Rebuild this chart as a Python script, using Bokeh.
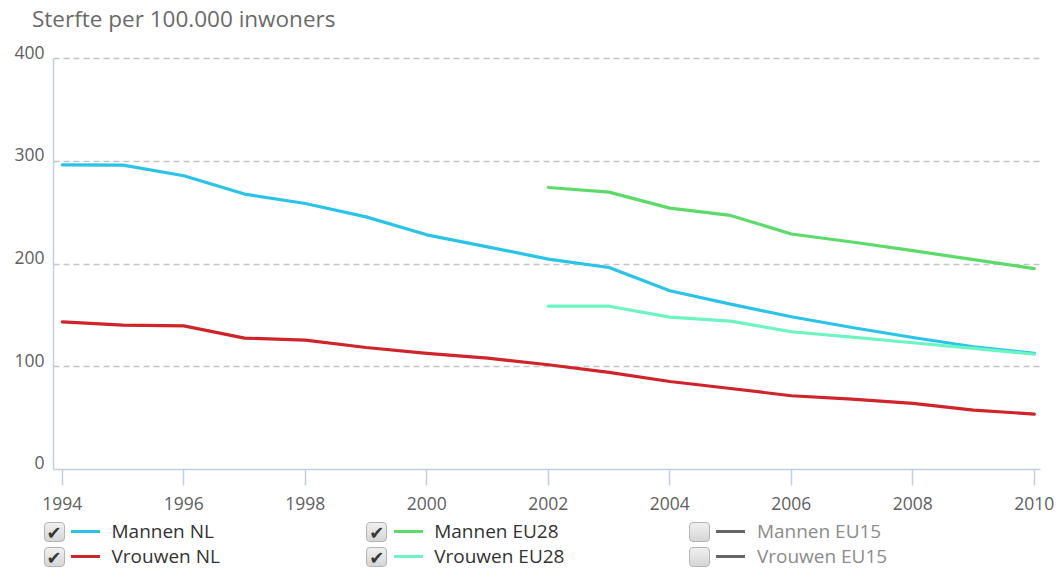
from bokeh.plotting import figure
from bokeh.models import Range1d, FixedTicker, Div, LinearAxis
from bokeh.layouts import column
from bokeh.embed import file_html
from bokeh.resources import INLINE

# ---- data ----
years_nl = [1994, 1995, 1996, 1997, 1998, 1999, 2000, 2001, 2002,
            2003, 2004, 2005, 2006, 2007, 2008, 2009, 2010]
mannen_nl = [296.7, 296.4, 286.0, 268.2, 259.0, 246.0, 228.5, 216.8, 204.9,
             196.7, 174.0, 161.0, 148.7, 138.3, 128.5, 119.5, 113.0]
vrouwen_nl = [143.8, 140.6, 139.9, 127.9, 126.0, 118.8, 113.0, 108.5, 102.0,
              94.5, 85.7, 78.9, 71.8, 68.5, 64.3, 57.8, 54.0]
years_eu = [2002, 2003, 2004, 2005, 2006, 2007, 2008, 2009, 2010]
mannen_eu28 = [274.6, 270.1, 254.5, 247.4, 229.3, 221.5, 213.1, 204.3, 195.6]
vrouwen_eu28 = [159.0, 159.0, 148.4, 144.5, 134.1, 128.9, 123.4, 118.0, 112.2]

x_ticks = [1994, 1996, 1998, 2000, 2002, 2004, 2006, 2008, 2010]
y_ticks = [0, 100, 200, 300, 400]
title_text = "Sterfte per 100.000 inwoners"

legend_names = ["Mannen NL", "Vrouwen NL", "Mannen EU28", "Vrouwen EU28",
                "Mannen EU15", "Vrouwen EU15"]
legend_checked = [True, True, True, True, False, False]
colors = ["#2ac4e8", "#d0242b", "#5cdb6a", "#6cf5c2", "#666666", "#666666"]

FONT = "Open Sans"
X0, X1 = 1993.855, 2010.102
Y0, Y1 = 0, 407           # a little head-room above the 400 grid line
LABEL_SHIFT = 6.33        # y tick labels sit a few pixels above their grid line

# ---- title (HTML, above the figure) ----
title_div = Div(
    text=(f"<div style=\"position:relative;width:1060px;height:34px;\">"
          f"<div style=\"position:absolute;left:32px;top:4px;line-height:30px;"
          f"font-size:22.5px;color:#6a6a6a;white-space:nowrap;"
          f"font-family:'{FONT}';\">{title_text}</div></div>"),
    width=1060, height=34, margin=(0, 0, 0, 0))

# ---- figure ----
p = figure(width=1060, height=484, output_backend="svg", toolbar_location=None,
           x_range=Range1d(X0, X1), y_range=Range1d(Y0, Y1),
           min_border_left=53, min_border_right=20, min_border_top=17,
           min_border_bottom=49)
p.outline_line_color = None
p.background_fill_color = "white"
p.border_fill_color = "white"

axis_col = "#c0d0e0"
p.xaxis.ticker = FixedTicker(ticks=x_ticks)
p.xaxis.axis_line_color = axis_col
p.xaxis.axis_line_width = 1.5
p.xaxis.major_tick_line_color = axis_col
p.xaxis.major_tick_line_width = 1.5
p.xaxis.major_tick_out = 16
p.xaxis.major_tick_in = 0
p.xaxis.minor_tick_line_color = None
p.xaxis.major_label_text_font = FONT
p.xaxis.major_label_text_font_size = "17.5px"
p.xaxis.major_label_text_color = "#606060"
p.xaxis.major_label_standoff = 11

# main y axis: the line (0..400) and the grid, no labels
p.yaxis.ticker = FixedTicker(ticks=y_ticks)
p.yaxis.bounds = (0, 400)
p.yaxis.axis_line_color = axis_col
p.yaxis.axis_line_width = 1.5
p.yaxis.major_tick_line_color = None
p.yaxis.major_tick_out = 0
p.yaxis.major_tick_in = 0
p.yaxis.minor_tick_line_color = None
p.yaxis.major_label_standoff = 0
p.yaxis.major_label_overrides = {t: "" for t in y_ticks}

# label axis: same ticks, range shifted so labels sit just above the grid lines
p.extra_y_ranges = {"ylab": Range1d(Y0 - LABEL_SHIFT, Y1 - LABEL_SHIFT)}
lab_axis = LinearAxis(y_range_name="ylab", ticker=FixedTicker(ticks=y_ticks),
                      axis_line_color=None, major_tick_line_color=None,
                      minor_tick_line_color=None, major_tick_out=0, major_tick_in=0,
                      major_label_standoff=9, major_label_text_font=FONT,
                      major_label_text_font_size="17.5px",
                      major_label_text_color="#606060")
p.add_layout(lab_axis, "left")

p.xgrid.grid_line_color = None
p.ygrid.grid_line_color = "#c4c4c4"
p.ygrid.grid_line_dash = "6 4"
p.ygrid.grid_line_width = 1.3

# series
lw = 3.2
p.line(years_nl, mannen_nl, line_color=colors[0], line_width=lw, line_join="round", line_cap="round")
p.line(years_nl, vrouwen_nl, line_color=colors[1], line_width=lw, line_join="round", line_cap="round")
p.line(years_eu, mannen_eu28, line_color=colors[2], line_width=lw, line_join="round", line_cap="round")
p.line(years_eu, vrouwen_eu28, line_color=colors[3], line_width=lw, line_join="round", line_cap="round")

# ---- legend with checkboxes (HTML) ----
items = []
for i, name in enumerate(legend_names):
    col, row = i // 2, i % 2
    bx = 43.5 + col * 322.7
    cy = 13.7 + row * 25.1
    checked = legend_checked[i]
    txt_col = "#333333" if checked else "#8c8c8c"
    check = ("<span style=\"position:absolute;left:0;top:0;width:100%;"
             "line-height:19px;text-align:center;font-size:18px;color:#383838;"
             "font-family:'DejaVu Sans';\">&#10004;</span>") if checked else ""
    items.append(
        f"<div style=\"position:absolute;left:{bx}px;top:{cy-9.5}px;width:21px;height:20px;"
        "box-sizing:border-box;border:1px solid #b4b4b4;border-radius:4px;"
        f"background:linear-gradient(#f0f0f0,#d6d6d6);\">{check}</div>"
        f"<div style=\"position:absolute;left:{bx+27.5}px;top:{cy-1.5}px;width:29px;height:3px;"
        f"background:{colors[i]};\"></div>"
        f"<div style=\"position:absolute;left:{bx+68}px;top:{cy-12.5}px;height:25px;"
        f"line-height:25px;font-size:19px;color:{txt_col};white-space:nowrap;"
        f"font-family:'{FONT}';\">{name}</div>"
    )
html = ("<div style=\"position:relative;width:1060px;height:54px;"
        f"font-family:'{FONT}';\">" + "".join(items) + "</div>")
legend_div = Div(text=html, width=1060, height=54, margin=(0, 0, 0, 0))

layout = column(title_div, p, legend_div, spacing=0)
open("out.html", "w").write(file_html(layout, INLINE))
